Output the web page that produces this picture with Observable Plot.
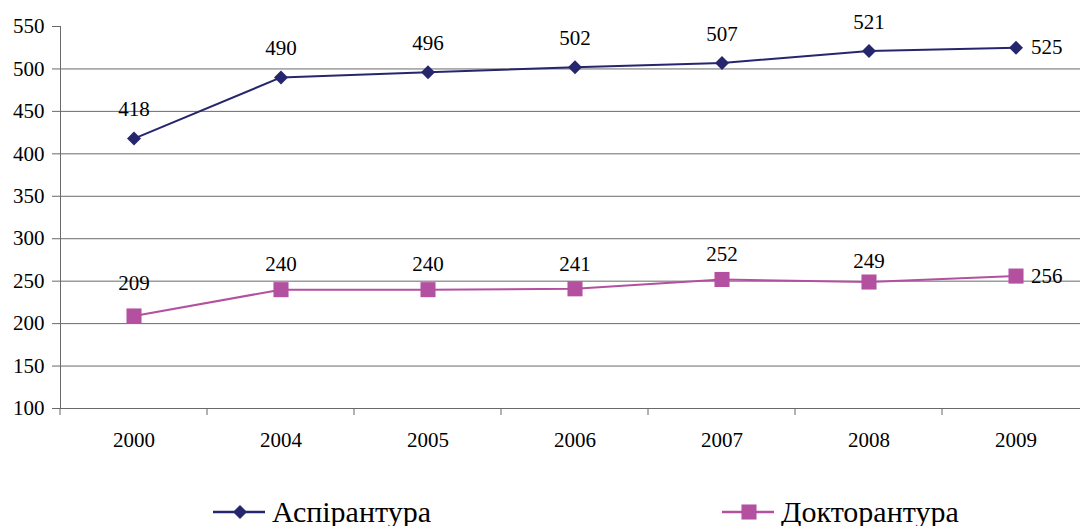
<!DOCTYPE html>
<html>
<head>
<meta charset="utf-8">
<script src="https://cdn.jsdelivr.net/npm/d3@7"></script>
<script src="https://cdn.jsdelivr.net/npm/@observablehq/plot@0.6"></script>
<style>
  html, body { margin: 0; padding: 0; background: #fff; overflow: hidden; }
  #chart { width: 1080px; overflow: hidden; }
  #legend { position: relative; width: 1080px; height: 51px; font-family: "Liberation Serif", "Times New Roman", serif; }
  .item { position: absolute; top: 0; height: 51px; }
  .item svg { position: absolute; top: 0; left: 0; }
  .item span { position: absolute; font-size: 30px; line-height: 30px; top: 22px; white-space: nowrap; color: #000; }
</style>
</head>
<body>
<div id="chart"></div>
<div id="legend"></div>
<script>
const years = ["2000", "2004", "2005", "2006", "2007", "2008", "2009"];
const aspirantura = [418, 490, 496, 502, 507, 521, 525];
const doktorantura = [209, 240, 240, 241, 252, 249, 256];
const seriesNames = ["Аспірантура", "Докторантура"];
const seriesColors = ["#26266f", "#b450a0"];
const yTicks = [100, 150, 200, 250, 300, 350, 400, 450, 500, 550];

const rowsA = years.map((year, i) => ({year, value: aspirantura[i], series: seriesNames[0]}));
const rowsD = years.map((year, i) => ({year, value: doktorantura[i], series: seriesNames[1]}));
const lastYear = years[years.length - 1];
const FONT = "Liberation Serif";
const X_RANGE = [60, 1089];

function boundaryTicks(index, scales, values, dims) {
  const g = d3.create("svg:g");
  const step = (X_RANGE[1] - X_RANGE[0]) / years.length;
  const yb = dims.height - dims.marginBottom;
  for (let i = 0; i <= years.length; i++) {
    const x = X_RANGE[0] + i * step;
    g.append("line").attr("x1", x).attr("x2", x).attr("y1", yb).attr("y2", yb + 7)
      .attr("stroke", "#666").attr("stroke-width", 1);
  }
  return g.node();
}

const txt = {x: "year", y: "value", text: d => String(d.value), fontSize: 21, fontFamily: FONT, fill: "#000"};

const chart = Plot.plot({
  width: 1080,
  height: 475,
  marginLeft: 60,
  marginRight: 0,
  marginTop: 26,
  marginBottom: 67,
  style: {fontFamily: FONT, color: "#000", background: "#fff"},
  x: {type: "band", domain: years, padding: 0, range: X_RANGE, label: null},
  y: {domain: [100, 550], label: null},
  marks: [
    Plot.ruleY(yTicks.filter(d => d > 100 && d < 550), {stroke: "#6a6a6a", strokeWidth: 1}),
    Plot.ruleY([100], {stroke: "#6a6a6a", strokeWidth: 1}),
    Plot.frame({anchor: "left", stroke: "#6a6a6a"}),
    Plot.axisY({ticks: yTicks, tickSize: 8, tickPadding: 8, fontSize: 21, fontFamily: FONT, stroke: "#6a6a6a", label: null}),
    Plot.axisX({tickSize: 0, tickPadding: 24, fontSize: 21, fontFamily: FONT, label: null}),
    boundaryTicks,
    Plot.line(rowsA, {x: "year", y: "value", stroke: seriesColors[0], strokeWidth: 2}),
    Plot.line(rowsD, {x: "year", y: "value", stroke: seriesColors[1], strokeWidth: 2}),
    Plot.dot(rowsA, {x: "year", y: "value", symbol: "diamond2", r: 6.3, fill: seriesColors[0], stroke: "none"}),
    Plot.dot(rowsD, {x: "year", y: "value", symbol: "square", r: 8.5, fill: seriesColors[1], stroke: "none"}),
    Plot.text(rowsA, {...txt, filter: d => d.year !== lastYear, dy: -29}),
    Plot.text(rowsD, {...txt, filter: d => d.year === "2000", dy: -33}),
    Plot.text(rowsD, {...txt, filter: d => d.year !== lastYear && d.year !== "2000" && d.year !== "2008", dy: -25}),
    Plot.text(rowsD, {...txt, filter: d => d.year === "2008", dy: -21}),
    Plot.text(rowsA, {...txt, filter: d => d.year === lastYear, dx: 15, textAnchor: "start"}),
    Plot.text(rowsD, {...txt, filter: d => d.year === lastYear, dx: 15, textAnchor: "start"})
  ]
});
document.getElementById("chart").appendChild(chart);

// Legend
const legend = d3.select("#legend");
const legendPos = [213, 722];
seriesNames.forEach((name, i) => {
  const item = legend.append("div").attr("class", "item").style("left", legendPos[i] + "px").style("width", "320px");
  const svg = item.append("svg").attr("width", 60).attr("height", 51);
  svg.append("line").attr("x1", 0).attr("x2", 52).attr("y1", 37).attr("y2", 37)
    .attr("stroke", seriesColors[i]).attr("stroke-width", 2.5);
  if (i === 0) {
    const s = d3.symbol(d3.symbolDiamond2, Math.PI * 6.3 * 6.3)();
    svg.append("path").attr("d", s).attr("transform", "translate(27,37)").attr("fill", seriesColors[i]);
  } else {
    const s = d3.symbol(d3.symbolSquare, Math.PI * 8.5 * 8.5)();
    svg.append("path").attr("d", s).attr("transform", "translate(27,37)").attr("fill", seriesColors[i]);
  }
  item.append("span").style("left", "59px").text(name);
});
</script>
</body>
</html>
